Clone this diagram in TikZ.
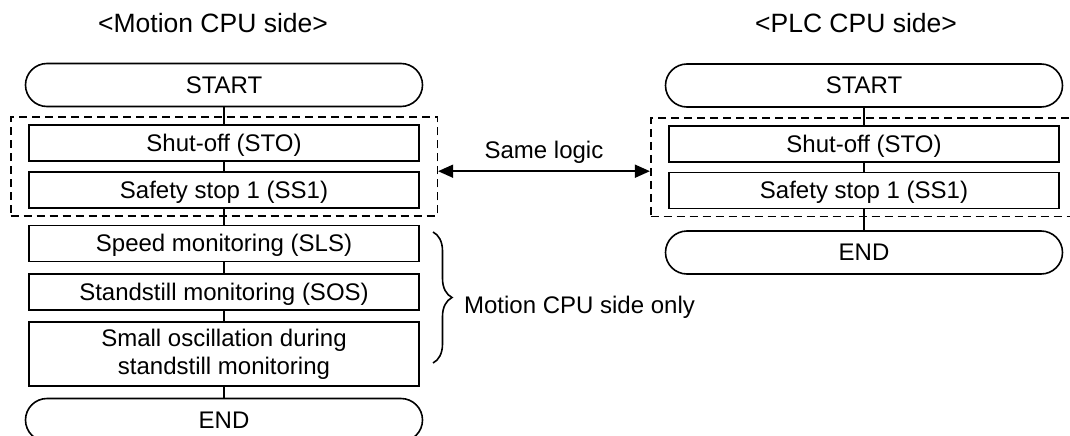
\documentclass[tikz,border=0pt]{standalone}
\usepackage{fontspec}
\setmainfont{Liberation Sans}
\usetikzlibrary{arrows.meta,fit,decorations.pathreplacing}
\tikzset{
  termbox/.style={draw, rectangle, rounded corners=21.5pt, minimum width=397pt, minimum height=43pt, text height=17pt, text depth=1pt},
  procbox/.style={draw, rectangle, minimum width=390pt, minimum height=36pt, text height=17pt, text depth=1pt, inner sep=0pt},
  groupbox/.style={draw, dash pattern=on 8pt off 5pt, inner xsep=17.5pt, inner ysep=7pt},
  headtext/.style={anchor=base, font=\fontsize{26.5}{30}\selectfont}
}
\begin{document}
\begin{tikzpicture}[x=1pt, y=-1pt, line width=1.6pt, font=\fontsize{24}{28}\selectfont,
  >={Triangle[length=15pt,width=13pt]}]
            \clip (0,0) rectangle (1070,436);

            \node (mhead) [headtext] at (213,33) {<Motion CPU side>};
            \node (phead) [headtext] at (856,33) {<PLC CPU side>};

            \node[termbox] (mstart) at (224,85) {START};
            \node[procbox] (msto) at (224,143) {Shut-off (STO)};
            \node[procbox] (mss1) at (224,190) {Safety stop 1 (SS1)};
            \node[procbox] (msls) at (224,243.5) {Speed monitoring (SLS)};
            \node[procbox] (msos) at (224,292) {Standstill monitoring (SOS)};
            \node[procbox, minimum height=64pt, text height={}, text depth={}, align=center] (mosc) at (224,354) {Small oscillation during\\standstill monitoring};
            \node[termbox] (mend) at (224,420) {END};

            \node[termbox] (pstart) at (864,85.5) {START};
            \node[procbox] (psto) at (864,144) {Shut-off (STO)};
            \node[procbox] (pss1) at (864,190.5) {Safety stop 1 (SS1)};
            \node[termbox] (pend) at (864,252.5) {END};

            \draw (mstart) -- (msto) -- (mss1) -- (msls) -- (msos) -- (mosc) -- (mend);
            \draw (pstart) -- (psto) -- (pss1) -- (pend);

            \node[groupbox, fit=(msto)(mss1)] (mgroup) {};
            \node[groupbox, fit=(psto)(pss1)] (pgroup) {};

            \draw[<->] (mgroup.east |- mss1.north) -- (pgroup.west |- mss1.north);
            \node (same) [anchor=base] at (544,158) {Same logic};

            \draw[decorate, decoration={brace, amplitude=19pt}] (433,232) -- (433,363);
            \node (only) [anchor=base west] at (460,313) {Motion CPU side only};
        \end{tikzpicture}
\end{document}
